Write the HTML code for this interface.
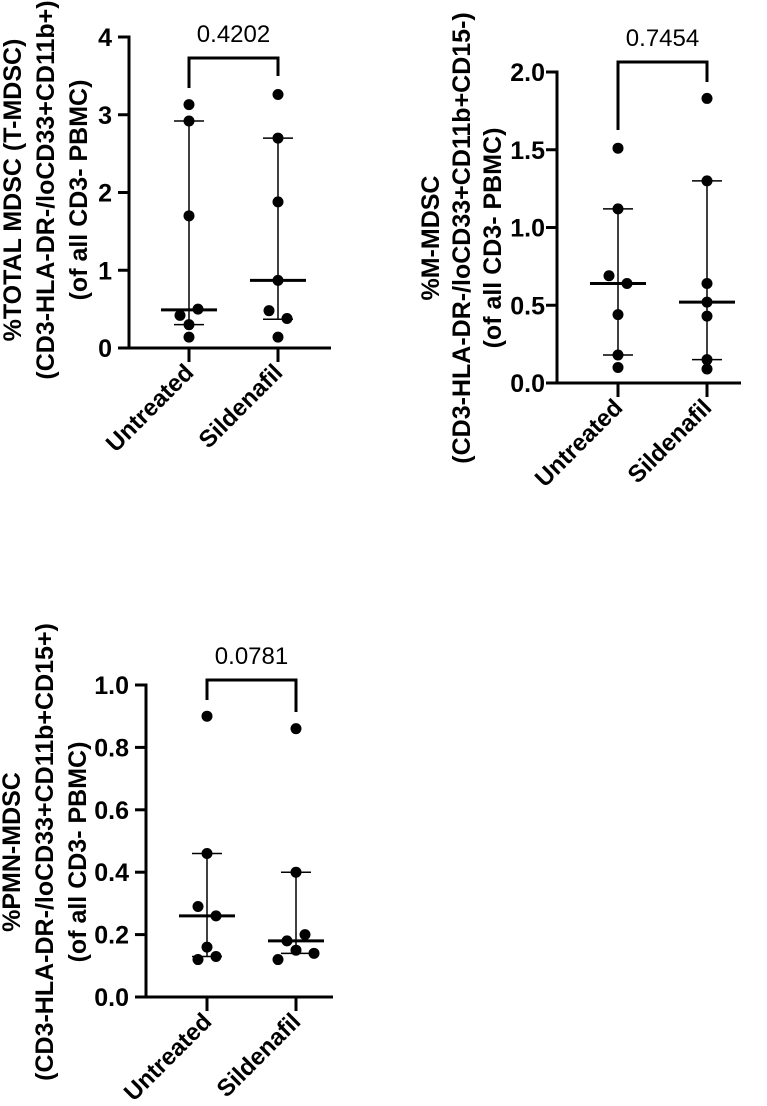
<!DOCTYPE html>
<html><head><meta charset="utf-8"><style>
html,body{margin:0;padding:0;background:#fff;}
svg{display:block;font-family:"Liberation Sans",Arial,sans-serif;}
</style></head><body>
<svg id="chart" width="767" height="1106" viewBox="0 0 767 1106" xmlns="http://www.w3.org/2000/svg"></svg>
<script>
const groups = ["Untreated", "Sildenafil"];
// Panel 1 - total MDSC
const p1Untreated = [3.13, 2.92, 1.70, 0.50, 0.42, 0.30, 0.14];
const p1UntreatedJitter = [0, 0, 0, 1, -1, 0, 0];
const p1Sildenafil = [3.26, 2.70, 1.88, 0.87, 0.48, 0.38, 0.14];
const p1SildenafilJitter = [0, 0, 0, 0, -1, 1, 0];
const p1Median = [0.49, 0.87];
const p1Low = [0.30, 0.37];
const p1High = [2.92, 2.70];
const p1Ticks = [0, 1, 2, 3, 4];
const p1TickLabels = ["0", "1", "2", "3", "4"];
const p1PValue = "0.4202";
// Panel 2 - M-MDSC
const p2Untreated = [1.51, 1.12, 0.69, 0.64, 0.44, 0.18, 0.10];
const p2UntreatedJitter = [0, 0, -1, 1, 0, 0, 0];
const p2Sildenafil = [1.83, 1.30, 0.64, 0.52, 0.43, 0.15, 0.09];
const p2SildenafilJitter = [0, 0, 0, 0, 0, 0, 0];
const p2Median = [0.64, 0.52];
const p2Low = [0.18, 0.15];
const p2High = [1.12, 1.30];
const p2Ticks = [0, 0.5, 1.0, 1.5, 2.0];
const p2TickLabels = ["0.0", "0.5", "1.0", "1.5", "2.0"];
const p2PValue = "0.7454";
// Panel 3 - PMN-MDSC
const p3Untreated = [0.90, 0.46, 0.29, 0.26, 0.16, 0.13, 0.12];
const p3UntreatedJitter = [0, 0, -1, 1, 0, 1, -1];
const p3Sildenafil = [0.86, 0.40, 0.20, 0.18, 0.15, 0.14, 0.12];
const p3SildenafilJitter = [0, 0, 1, -1, 0, 2, -2];
const p3Median = [0.26, 0.18];
const p3Low = [0.13, 0.14];
const p3High = [0.46, 0.40];
const p3Ticks = [0, 0.2, 0.4, 0.6, 0.8, 1.0];
const p3TickLabels = ["0.0", "0.2", "0.4", "0.6", "0.8", "1.0"];
const p3PValue = "0.0781";

const NS = "http://www.w3.org/2000/svg";
const svg = document.getElementById("chart");
function mk(tag, attrs, parent) {
  const e = document.createElementNS(NS, tag);
  for (const k in attrs) e.setAttribute(k, attrs[k]);
  (parent || svg).appendChild(e);
  return e;
}
function panel(cfg) {
  const g = mk("g", {});
  
  
  const y = v => cfg.y0 - (v - cfg.ymin) / (cfg.ymax - cfg.ymin) * (cfg.y0 - cfg.y1);
  const x = i => cfg.xs[i];
  const ya = mk("line", {x1: cfg.ax, x2: cfg.ax, y1: cfg.y1 - 1.5, y2: cfg.y0 + 1.5, stroke: "#000", "stroke-width": 3}, g);
  
  
  const xa = mk("line", {x1: cfg.ax - 11, x2: cfg.axEnd, y1: cfg.y0, y2: cfg.y0, stroke: "#000", "stroke-width": 3}, g);
  
  
  cfg.ticks.forEach((t, i) => {
    const ty = y(t);
    const tl = mk("line", {x1: cfg.ax - 11, x2: cfg.ax, y1: ty, y2: ty, stroke: "#000", "stroke-width": 3}, g);
    
    
    const tx = mk("text", {x: cfg.ax - cfg.lg, y: ty + 9, "text-anchor": "end", "font-size": 25, "font-weight": "bold"}, g);
    tx.textContent = cfg.tickLabels[i];
    
    
  });
  groups.forEach((gname, i) => {
    const xt = mk("line", {x1: x(i), x2: x(i), y1: cfg.y0, y2: cfg.y0 + 14, stroke: "#000", "stroke-width": 3}, g);
    
    
    const lx = x(i) + 6, ly = cfg.y0 + 26;
    const lab = mk("text", {x: lx, y: ly, "text-anchor": "end", "font-size": 24, "font-weight": "bold", transform: `rotate(-45 ${lx} ${ly})`}, g);
    lab.textContent = gname;
    
    
    const eb = mk("line", {x1: x(i), x2: x(i), y1: y(cfg.low[i]), y2: y(cfg.high[i]), stroke: "#000", "stroke-width": 1.5}, g);
    
    
    [cfg.low[i], cfg.high[i]].forEach(v => {
      const c = mk("line", {x1: x(i) - 15, x2: x(i) + 15, y1: y(v), y2: y(v), stroke: "#000", "stroke-width": 1.5}, g);
      
      
    });
    const md = mk("line", {x1: x(i) - 28, x2: x(i) + 28, y1: y(cfg.median[i]), y2: y(cfg.median[i]), stroke: "#000", "stroke-width": 3}, g);
    
    
    const vals = cfg.data[i], jit = cfg.jit[i];
    vals.forEach((v, k) => {
      const d = mk("circle", {cx: x(i) + jit[k] * 9, cy: y(v), r: 5.5, fill: "#000"}, g);
      
      
    });
  });
  const br = mk("path", {d: `M${x(0)} ${cfg.bL} V${cfg.bT} H${x(1)} V${cfg.bR}`, fill: "none", stroke: "#000", "stroke-width": 3}, g);
  
  
  const pv = mk("text", {x: (x(0) + x(1)) / 2, y: cfg.bT - 16, "text-anchor": "middle", "font-size": 24}, g);
  pv.textContent = cfg.p;
  
  
  const yt = mk("text", {transform: `translate(${cfg.tx} ${cfg.tyc}) rotate(-90)`, "text-anchor": "middle", "font-size": 25, "font-weight": "bold"}, g);
  
  
  cfg.title.forEach((line, k) => {
    const ts = mk("tspan", {x: 0, y: k * cfg.ls}, yt);
    ts.textContent = line;
  });
}
panel({name: "panel-total-mdsc", ax: 129, axEnd: 331, y0: 348, y1: 37, ymin: 0, ymax: 4, xs: [189, 278], lg: 17,
  ticks: p1Ticks, tickLabels: p1TickLabels, data: [p1Untreated, p1Sildenafil], jit: [p1UntreatedJitter, p1SildenafilJitter],
  median: p1Median, low: p1Low, high: p1High, p: p1PValue, bT: 58, bL: 88, bR: 76,
  tx: 21, tyc: 190, ls: 33, title: ["%TOTAL MDSC (T-MDSC)", "(CD3-HLA-DR-/loCD33+CD11b+)", "(of all CD3- PBMC)"]});
panel({name: "panel-m-mdsc", ax: 557, axEnd: 741, y0: 383, y1: 72, ymin: 0, ymax: 2, xs: [618, 707], lg: 12,
  ticks: p2Ticks, tickLabels: p2TickLabels, data: [p2Untreated, p2Sildenafil], jit: [p2UntreatedJitter, p2SildenafilJitter],
  median: p2Median, low: p2Low, high: p2High, p: p2PValue, bT: 62, bL: 130, bR: 82,
  tx: 439, tyc: 238, ls: 31, title: ["%M-MDSC", "(CD3-HLA-DR-/loCD33+CD11b+CD15-)", "(of all CD3- PBMC)"]});
panel({name: "panel-pmn-mdsc", ax: 146, axEnd: 333, y0: 997, y1: 685, ymin: 0, ymax: 1, xs: [207, 296], lg: 17,
  ticks: p3Ticks, tickLabels: p3TickLabels, data: [p3Untreated, p3Sildenafil], jit: [p3UntreatedJitter, p3SildenafilJitter],
  median: p3Median, low: p3Low, high: p3High, p: p3PValue, bT: 680, bL: 700, bR: 712,
  tx: 20, tyc: 852, ls: 33, title: ["%PMN-MDSC", "(CD3-HLA-DR-/loCD33+CD11b+CD15+)", "(of all CD3- PBMC)"]});
</script>
</body></html>
